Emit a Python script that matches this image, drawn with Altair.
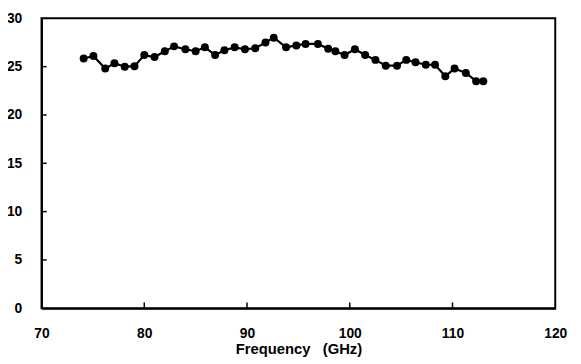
import altair as alt
import pandas as pd

freq = [74.1, 75.05, 76.2, 77.1, 78.1, 79.05, 80.0, 81.0, 82.0, 82.9,
        84.0, 85.0, 85.9, 86.9, 87.8, 88.8, 89.8, 90.8, 91.8, 92.6,
        93.8, 94.8, 95.7, 96.9, 97.9, 98.6, 99.5, 100.5, 101.5, 102.5,
        103.5, 104.6, 105.5, 106.4, 107.4, 108.3, 109.3, 110.2, 111.3, 112.3, 113.0]
value = [25.85, 26.1, 24.8, 25.35, 25.0, 25.05, 26.2, 26.0, 26.6, 27.1,
         26.8, 26.6, 27.0, 26.2, 26.7, 27.0, 26.8, 26.9, 27.5, 28.0,
         27.0, 27.2, 27.35, 27.35, 26.85, 26.6, 26.2, 26.8, 26.2, 25.7,
         25.1, 25.1, 25.7, 25.45, 25.2, 25.2, 24.0, 24.8, 24.35, 23.5, 23.5]
x_ticks = [70, 80, 90, 100, 110, 120]
y_ticks = [0, 5, 10, 15, 20, 25, 30]

df = pd.DataFrame({"f": freq, "v": value})
xt = pd.DataFrame({"t": [80, 90, 100, 110]})
yt = pd.DataFrame({"t": [5, 10, 15, 20, 25]})

FONT = "Liberation Sans"

xscale = alt.Scale(domain=[70, 120], nice=False, zero=False)
yscale = alt.Scale(domain=[0, 30], nice=False)

xaxis = alt.Axis(values=x_ticks, title="Frequency\u00a0\u00a0\u00a0(GHz)", grid=False,
                 ticks=False, labelPadding=19, titlePadding=1,
                 labelFontSize=14, labelFontWeight="bold", labelFont=FONT,
                 titleFontSize=15, titleFontWeight="bold", titleFont=FONT,
                 labelColor="black", titleColor="black",
                 domainColor="black", domainWidth=2, labelFlush=False)
yaxis = alt.Axis(values=y_ticks, title=None, grid=False, ticks=False,
                 labelPadding=20, labelFontSize=14, labelFontWeight="bold",
                 labelFont=FONT, labelColor="black",
                 domainColor="black", domainWidth=2, labelFlush=False)

base = alt.Chart(df)

line = base.mark_line(color="black", strokeWidth=2.2).encode(
    x=alt.X("f:Q", scale=xscale, axis=xaxis),
    y=alt.Y("v:Q", scale=yscale, axis=yaxis),
)
pts = base.mark_circle(color="black", opacity=1, size=65).encode(
    x=alt.X("f:Q", scale=xscale),
    y=alt.Y("v:Q", scale=yscale),
)
xtick = alt.Chart(xt).mark_rule(color="black", strokeWidth=1.5).encode(
    x=alt.X("t:Q", scale=xscale),
    y=alt.datum(0),
    y2=alt.datum(0.6),
)
ytick = alt.Chart(yt).mark_rule(color="black", strokeWidth=1.5).encode(
    y=alt.Y("t:Q", scale=yscale),
    x=alt.datum(70),
    x2=alt.datum(70.5),
)

chart = alt.layer(line, pts, xtick, ytick).properties(
    width=521, height=294,
    autosize=alt.AutoSizeParams(type="none"),
    padding={"left": 34, "top": 8, "right": 18, "bottom": 50},
    background="white",
).configure_view(stroke="black", strokeWidth=2)

chart.save("out.html", embed_options={"renderer": "svg", "actions": False})
